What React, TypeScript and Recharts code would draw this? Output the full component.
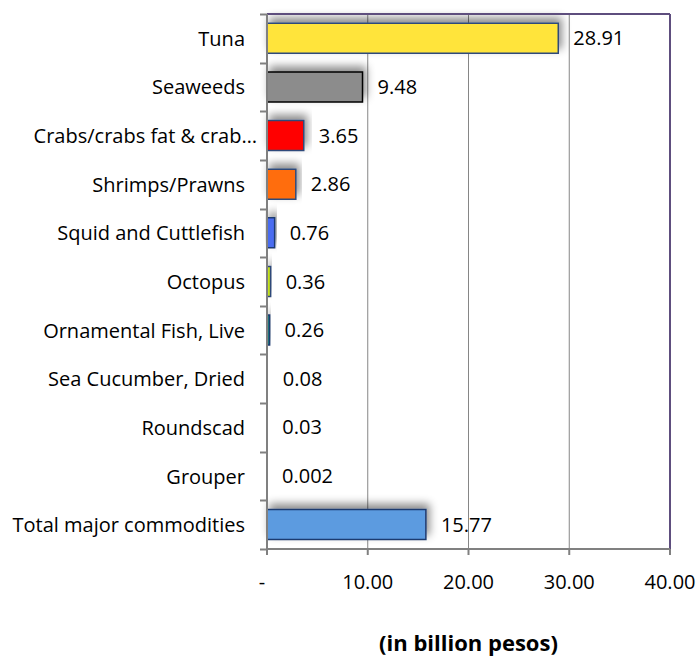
import React from "react";
import {
  BarChart,
  Bar,
  XAxis,
  YAxis,
  CartesianGrid,
  Cell,
  LabelList,
  ReferenceLine,
} from "recharts";

const categories = [
  "Tuna",
  "Seaweeds",
  "Crabs/crabs fat & crab…",
  "Shrimps/Prawns",
  "Squid and Cuttlefish",
  "Octopus",
  "Ornamental Fish, Live",
  "Sea Cucumber, Dried",
  "Roundscad",
  "Grouper",
  "Total major commodities",
];
const values = [28.91, 9.48, 3.65, 2.86, 0.76, 0.36, 0.26, 0.08, 0.03, 0.002, 15.77];
const valueLabels = ["28.91", "9.48", "3.65", "2.86", "0.76", "0.36", "0.26", "0.08", "0.03", "0.002", "15.77"];
const fills = [
  "#FFE43B",
  "#8C8C8C",
  "#FF0000",
  "#FF6D0A",
  "#4A6CF0",
  "#C4E21A",
  "#1E7A7A",
  "#3050A0",
  "#6080C0",
  "#8899BB",
  "#5B9BE0",
];
const strokes = [
  "#2E4A7A",
  "#000000",
  "#2E4A7A",
  "#2E4A7A",
  "#1F3A70",
  "#2E4A7A",
  "#1F3A70",
  "#2E4A7A",
  "#2E4A7A",
  "#2E4A7A",
  "#1F3A70",
];
const xTicks = [0, 10, 20, 30, 40];

const data = categories.map((name, i) => ({ name, value: values[i], label: valueLabels[i] }));

const FONT = "'Open Sans', sans-serif";
const AXIS_GRAY = "#868686";
const FRAME = "#5E4E7E";

const W = 697;
const H = 659;
const TOP = 13;
const X_AXIS_H = 110;
// half of one category band, for Excel-style ticks between categories
const HALF_BAND = (H - TOP - 1 - X_AXIS_H) / categories.length / 2;

function CategoryTick(props: any) {
  const { x, y, payload, index } = props;
  const ax = x + 22;
  const y0 = Math.round(y - HALF_BAND) + 0.5;
  const y1 = Math.round(y + HALF_BAND) + 0.5;
  return (
    <g>
      <line x1={ax - 7} x2={ax} y1={y0} y2={y0} stroke="#808080" strokeWidth={2} />
      {index === categories.length - 1 && (
        <line x1={ax - 7} x2={ax} y1={y1} y2={y1} stroke="#808080" strokeWidth={2} />
      )}
      <text
        x={payload.value.endsWith("…") ? x + 12 : x}
        y={y}
        textAnchor="end"
        dominantBaseline="central"
        fontFamily={FONT}
        fontSize={20}
        fill="#000"
      >
        {payload.value}
      </text>
    </g>
  );
}

function ValueTick(props: any) {
  const { x, y, payload } = props;
  return (
    <text
      x={payload.value === 0 ? x - 5 : x}
      y={y}
      textAnchor="middle"
      dominantBaseline="hanging"
      fontFamily={FONT}
      fontSize={20}
      fill="#000"
    >
      {payload.value === 0 ? "-" : payload.value.toFixed(2)}
    </text>
  );
}

export default function App() {
  return (
    <div style={{ position: "absolute", left: 0, top: 0, width: W, height: H, background: "#fff" }}>
      <BarChart
        width={W}
        height={H}
        data={data}
        layout="vertical"
        margin={{ top: TOP, right: 27, left: 0, bottom: 0 }}
        barCategoryGap="19%"
      >
        <defs>
          <filter id="barShadow" x="-20%" y="-80%" width="140%" height="260%">
            <feDropShadow dx="3" dy="-5" stdDeviation="4" floodColor="#000" floodOpacity="0.45" />
          </filter>
        </defs>
        <CartesianGrid horizontal={false} stroke={AXIS_GRAY} />
        <XAxis
          type="number"
          domain={[0, 40]}
          ticks={xTicks}
          interval={0}
          height={X_AXIS_H}
          stroke="#808080"
          strokeWidth={2}
          tickSize={6}
          tickMargin={17}
          tick={<ValueTick />}
          label={{
            value: "(in billion pesos)",
            position: "insideBottom",
            offset: 8,
            fontFamily: FONT,
            fontSize: 22,
            fontWeight: "bold",
            fill: "#000",
          }}
        />
        <XAxis
          xAxisId="top"
          orientation="top"
          type="number"
          domain={[0, 40]}
          height={1}
          tick={false}
          tickLine={false}
          stroke={FRAME}
          strokeWidth={2}
        />
        <YAxis
          type="category"
          dataKey="name"
          width={267}
          interval={0}
          tickLine={false}
          tickSize={0}
          tickMargin={22}
          stroke="#808080"
          strokeWidth={2}
          tick={<CategoryTick />}
        />
        <ReferenceLine x={40} stroke={FRAME} strokeWidth={2} />
        <Bar dataKey="value" isAnimationActive={false} filter="url(#barShadow)" strokeWidth={1.5}>
          {data.map((_, i) => (
            <Cell key={i} fill={fills[i]} stroke={strokes[i]} />
          ))}
          <LabelList
            dataKey="label"
            position="right"
            offset={15}
            fontFamily={FONT}
            fontSize={20}
            fill="#000"
          />
        </Bar>
      </BarChart>
    </div>
  );
}
